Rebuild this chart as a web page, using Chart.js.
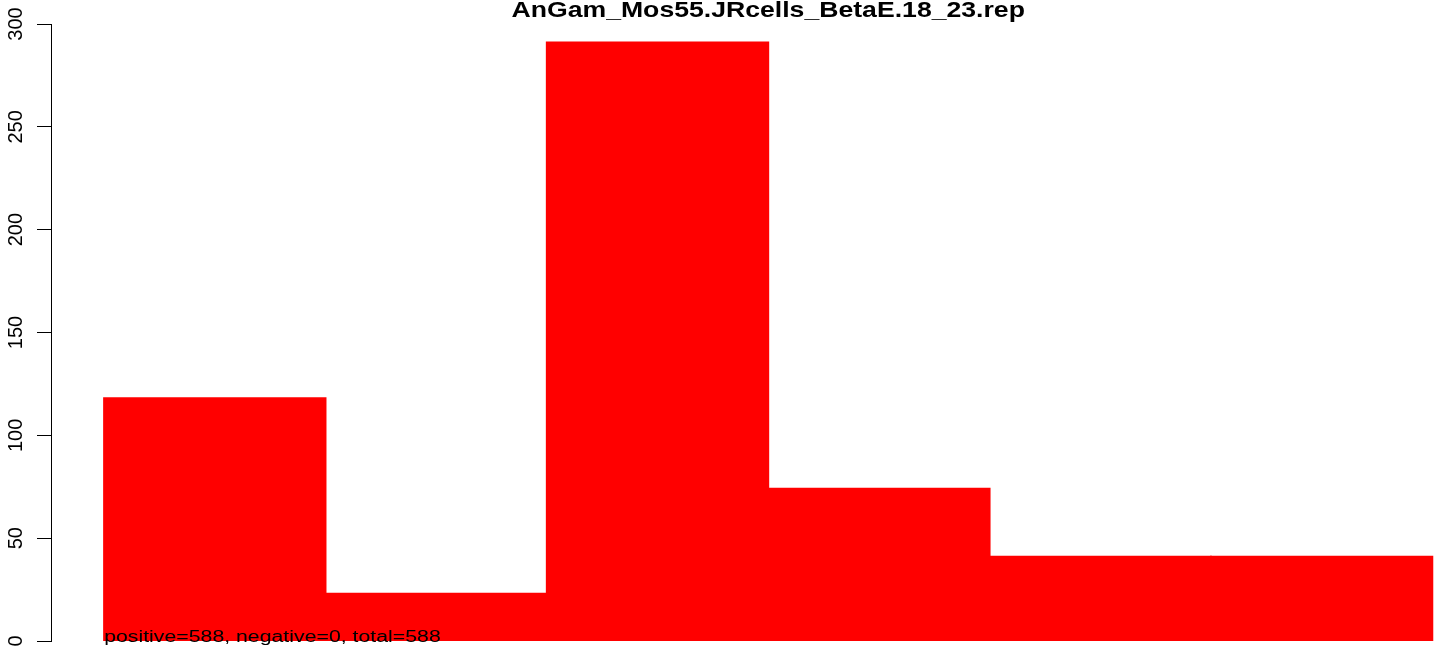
<!DOCTYPE html>
<html>
<head>
<meta charset="utf-8">
<script src="https://cdn.jsdelivr.net/npm/chart.js@4"></script>
<style>
  body { margin: 0; background: #fff; }
  #wrap { width: 1444px; height: 647px; }
</style>
</head>
<body>
<div id="wrap"><canvas id="myChart" width="1444" height="647"></canvas></div>
<script>
  // Chart data
  var titleText = 'AnGam_Mos55.JRcells_BetaE.18_23.rep';
  var noteText = 'positive=588, negative=0, total=588';
  var binCenters = [0.5, 1.5, 2.5, 3.5, 4.5, 5.5];
  var counts = [118, 23, 291, 74, 41, 41];
  var yTicks = [0, 50, 100, 150, 200, 250, 300];

  var FONT = "'Liberation Sans', Arial, sans-serif";

  // R-style title and footnote, stretched sideways like the reference
  var textPlugin = {
    id: 'rText',
    afterDraw: function (chart) {
      var c = chart.ctx;
      var xs = chart.scales.x, ys = chart.scales.y;
      c.save();
      c.fillStyle = '#000';
      c.textBaseline = 'alphabetic';

      c.font = 'bold 22px ' + FONT;
      c.textAlign = 'center';
      c.save();
      c.translate(xs.getPixelForValue(3), 17);
      c.scale(1.21, 1);
      c.fillText(titleText, 0, 0);
      c.restore();

      c.font = '16px ' + FONT;
      c.textAlign = 'left';
      c.save();
      c.translate(xs.getPixelForValue(0), ys.getPixelForValue(0) + 1);
      c.scale(1.33, 1);
      c.fillText(noteText, 0, 0);
      c.restore();
      c.restore();
    }
  };

  var ctx = document.getElementById('myChart').getContext('2d');

  var data = {
    datasets: [{
      data: binCenters.map(function (x, i) { return { x: x, y: counts[i] }; }),
      backgroundColor: '#ff0000',
      borderWidth: 0,
      inflateAmount: 1,
      barPercentage: 1,
      categoryPercentage: 1
    }]
  };

  var options = {
    responsive: false,
    animation: false,
    devicePixelRatio: 1,
    layout: { padding: { top: 24, bottom: 6, left: 0, right: 0 } },
    plugins: {
      legend: { display: false },
      title: { display: false },
      tooltip: { enabled: false }
    },
    scales: {
      x: {
        type: 'linear',
        display: false,
        offset: false,
        min: -0.24,
        max: 6.053
      },
      y: {
        min: 0,
        max: 300,
        afterBuildTicks: function (scale) {
          scale.ticks = yTicks.map(function (v) { return { value: v }; });
        },
        afterFit: function (scale) {
          scale.width = 51;
          scale.paddingTop = 0;
          scale.paddingBottom = 0;
        },
        border: { display: true, color: '#000', width: 1 },
        grid: {
          drawOnChartArea: false,
          drawTicks: true,
          tickLength: 14,
          color: '#000',
          lineWidth: 1
        },
        ticks: {
          minRotation: 90,
          maxRotation: 90,
          crossAlign: 'center',
          padding: 4,
          color: '#000',
          font: { family: FONT, size: 20 }
        }
      }
    }
  };

  var chart = new Chart(ctx, {
    type: 'bar',
    data: data,
    options: options,
    plugins: [textPlugin]
  });
</script>
</body>
</html>
